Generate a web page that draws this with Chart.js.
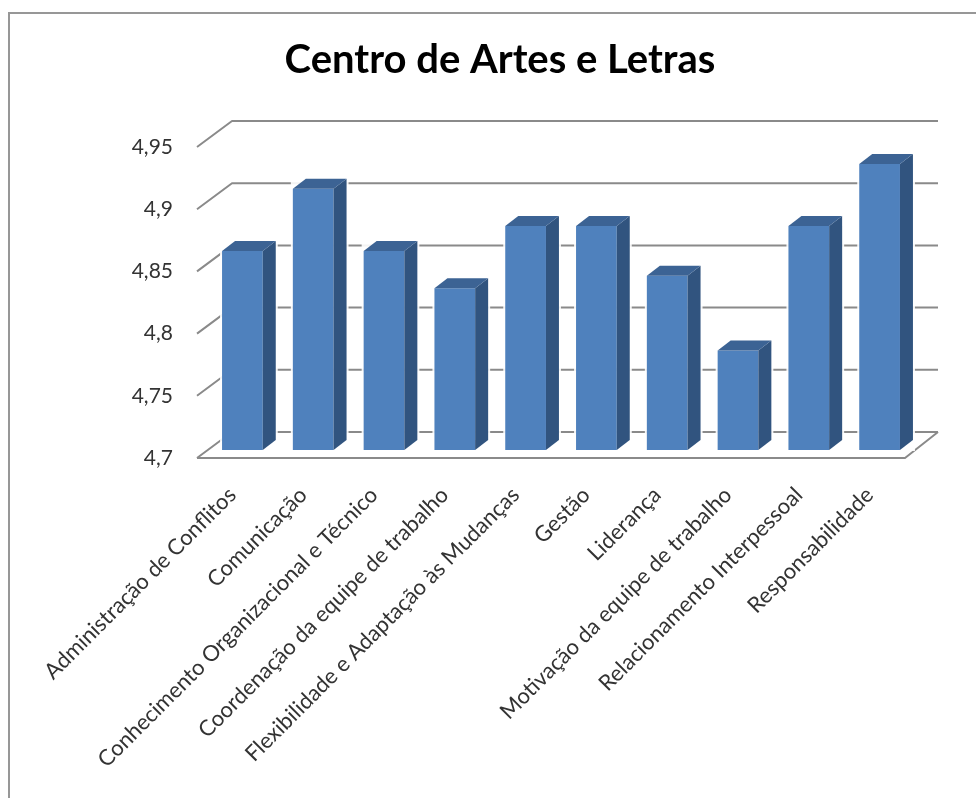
<!DOCTYPE html>
<html><head><meta charset="utf-8">
<script src="https://cdn.jsdelivr.net/npm/chart.js@4"></script>
<style>
html,body{margin:0;padding:0;background:#fff;overflow:hidden}
#wrap{position:relative;width:976px;height:798px}
#frame{position:absolute;left:8px;top:12px;right:-4px;bottom:-4px;border:2px solid #979797;pointer-events:none}
canvas{display:block;filter:blur(0.5px)}
</style></head><body>
<div id="wrap"><canvas id="c" width="976" height="798"></canvas><div id="frame"></div></div>
<script>
const titleText = "Centro de Artes e Letras";
const categories = ["Administração de Conflitos","Comunicação","Conhecimento Organizacional e Técnico","Coordenação da equipe de trabalho","Flexibilidade e Adaptação às Mudanças","Gestão","Liderança","Motivação da equipe de trabalho","Relacionamento Interpessoal","Responsabilidade"];
const values = [4.86,4.91,4.86,4.83,4.88,4.88,4.84,4.78,4.88,4.93];
const yMin = 4.7, yMax = 4.95, yStep = 0.05;

const FONT = "Lato, Carlito, sans-serif";
const wallDX = 35, wallDY = -26;     // depth of the 3D floor/walls
const barShiftX = 10, barShiftY = -8; // bars stand inside the floor
const barDX = 13, barDY = -10;       // depth of each 3D bar
const gridColor = "#8a8a8a", frontColor = "#4f81bd", sideColor = "#31547f", topColor = "#3c6394";

const threeD = {
  id: "threeD",
  beforeDatasetsDraw(chart) {
    const {ctx, scales: {x, y}, chartArea: a} = chart;
    ctx.save();
    ctx.strokeStyle = gridColor; ctx.lineWidth = 2; ctx.lineJoin = "round";
    y.ticks.forEach(t => {
      const py = y.getPixelForValue(t.value);
      ctx.beginPath();
      ctx.moveTo(a.left, py);
      ctx.lineTo(a.left + wallDX, py + wallDY);
      ctx.lineTo(a.right + wallDX - 2, py + wallDY);
      ctx.stroke();
    });
    const b = y.getPixelForValue(yMin);
    ctx.beginPath();
    ctx.moveTo(a.left, b); ctx.lineTo(a.right, b);
    ctx.lineTo(a.right + wallDX - 2, b + wallDY);
    ctx.stroke();
    ctx.restore();
    ctx.save();
    ctx.translate(barShiftX, barShiftY);
    const els = chart.getDatasetMeta(0).data;
    // soft pale halo around each bar
    ctx.fillStyle = "rgba(255,255,255,0.9)";
    els.forEach(e => {
      const p = e.getProps(["x","y","base","width"], true);
      ctx.fillRect(p.x - p.width/2 - 2, p.y + barDY - 2, p.width + barDX + 4, p.base - p.y - barDY + 3);
    });
  },
  afterDatasetsDraw(chart) {
    const {ctx} = chart;
    chart.getDatasetMeta(0).data.forEach(e => {
      const p = e.getProps(["x","y","base","width"], true);
      const l = p.x - p.width/2, r = p.x + p.width/2;
      ctx.fillStyle = sideColor;
      ctx.beginPath();
      ctx.moveTo(r, p.y); ctx.lineTo(r + barDX, p.y + barDY);
      ctx.lineTo(r + barDX, p.base + barDY); ctx.lineTo(r, p.base);
      ctx.closePath(); ctx.fill();
      ctx.fillStyle = topColor;
      ctx.beginPath();
      ctx.moveTo(l, p.y); ctx.lineTo(l + barDX, p.y + barDY);
      ctx.lineTo(r + barDX, p.y + barDY); ctx.lineTo(r, p.y);
      ctx.closePath(); ctx.fill();
    });
    ctx.restore();
  }
};

new Chart(document.getElementById("c"), {
  type: "bar",
  data: { labels: categories, datasets: [{ data: values, base: yMin, backgroundColor: frontColor, borderWidth: 0, clip: false,
          barPercentage: 0.575, categoryPercentage: 1 }] },
  plugins: [threeD],
  options: {
    responsive: false, animation: false,
    layout: { padding: { left: 95, right: 71, top: 0, bottom: 0 } },
    plugins: {
      legend: { display: false }, tooltip: { enabled: false },
      title: { display: true, text: titleText, color: "#000", font: { family: FONT, size: 40, weight: "bold" },
               padding: { top: 36, bottom: 63 } }
    },
    scales: {
      x: {
        grid: { display: false }, border: { display: false },
        afterFit(s) { s.height = 340; },
        ticks: { autoSkip: false, minRotation: 45, maxRotation: 45, padding: 16, color: "#333",
                 font: { family: FONT, size: 22 } }
      },
      y: {
        min: yMin, max: yMax,
        grid: { display: false }, border: { display: false },
        afterFit(s) { s.width = 102; },
        ticks: { stepSize: yStep, padding: 16, color: "#333", font: { family: FONT, size: 21 },
                 callback: v => String(Number(v.toFixed(2))).replace(".", ",") }
      }
    }
  }
});
</script>
</body></html>
